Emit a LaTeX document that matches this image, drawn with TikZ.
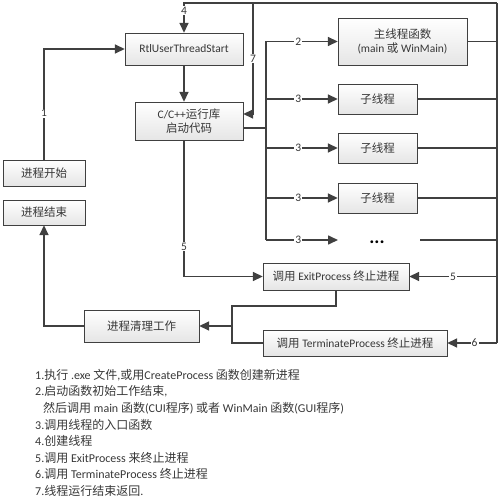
\documentclass[tikz,border=0pt]{standalone}
\usepackage{fontspec}
\setmainfont{Carlito}
\newfontfamily\cjk{Noto Sans CJK SC}
\usetikzlibrary{arrows.meta,shadows}
\newcommand\zh[1]{{\cjk #1}}
\definecolor{lnc}{RGB}{64,64,64}
\definecolor{txc}{RGB}{55,55,55}

\begin{document}
\begin{tikzpicture}[
                    x=1pt, y=-1pt,
                    >={Triangle[length=10pt,width=9pt]},
                    block/.style={draw=lnc, rectangle, inner sep=0pt, top color=white, bottom color=black!10,
                                  drop shadow={shadow xshift=1.2pt, shadow yshift=-1.2pt, opacity=0.25},
                                  text=txc, font=\fontsize{11.5}{14.5}\selectfont, align=center},
                    num/.style={fill=white, inner sep=1pt, text=txc, font=\fontsize{11.5}{13}\selectfont},
                    conn/.style={draw=lnc, line width=1.6pt}
                    ]
    \useasboundingbox (0,0) rectangle (500,500);

    % boxes
    \node [block, minimum width=118pt, minimum height=32pt] (rtl) at (184,49) {RtlUserThreadStart};
    \node [block, minimum width=108pt, minimum height=38pt] (crt) at (189,121) {C/C++\zh{运行库}\\\zh{启动代码}};
    \node [block, minimum width=82pt, minimum height=26pt] (pstart) at (44,173) {\zh{进程开始}};
    \node [block, minimum width=82pt, minimum height=25pt] (pend) at (44,212.5) {\zh{进程结束}};
    \node [block, minimum width=115pt, minimum height=32pt] (clean) at (141.5,326) {\zh{进程清理工作}};
    \node [block, minimum width=129pt, minimum height=47pt] (mainf) at (402.5,41.5) {\zh{主线程函数}\\(main \zh{或} WinMain)};
    \foreach \y/\n in {99/sub1,148/sub2,198/sub3}
        \node [block, minimum width=79pt, minimum height=30pt] (\n) at (377.5,\y) {\zh{子线程}};
    \node [anchor=base, text=black, font=\bfseries\fontsize{19}{20}\selectfont] (dots) at (377,243.5) {...};
    \node [block, minimum width=146pt, minimum height=27pt] (exitp) at (336,276.5) {\zh{调用} ExitProcess \zh{终止进程}};
    \node [block, minimum width=184pt, minimum height=26pt] (termp) at (355,343) {\zh{调用} TerminateProcess \zh{终止进程}};

    % corners of the connectors
    \coordinate (topr) at (497,3);
    \coordinate (botr) at (497,343);
    \coordinate (c7) at (253,3);
    \coordinate (bus) at (266,128);
    \coordinate (busend) at (266,240);
    \coordinate (dotsin) at (338,240);
    \coordinate (dotsout) at (420,240);
    \coordinate (mtop) at (232,306);
    \coordinate (mj) at (232,326);

    \draw [conn,->] (pstart.north) |- node[num,pos=0.21]{1} (rtl.west);
    \draw [conn,->] (rtl.south) -- (rtl.south |- crt.north);
    \draw [conn] (topr) -- (botr);
    \draw [conn,->] (topr) -| node[num,pos=0.63]{4} (rtl.north);
    \draw [conn,->] (c7) |- node[num,pos=0.25]{7} ([yshift=7pt]crt.east);
    \draw [conn,line width=2.8pt] ([yshift=-7pt]crt.east) -- (bus);
    \draw [conn] (bus |- mainf.west) -- (busend);
    \draw [conn,->] (bus |- mainf.west) -- node[num,pos=0.45]{2} (mainf.west);
    \foreach \n in {sub1,sub2,sub3}
        \draw [conn,->] (bus |- \n.west) -- node[num,pos=0.45]{3} (\n.west);
    \draw [conn,->] (busend) -- node[num,pos=0.45]{3} (dotsin);
    \foreach \n in {mainf,sub1,sub2,sub3}
        \draw [conn] (\n.east) -- (\n.east -| topr);
    \draw [conn] (dotsout) -- (dotsout -| topr);
    \draw [conn,->] (exitp.east -| topr) -- node[num]{5} (exitp.east);
    \draw [conn,->] (termp.east -| topr) -- node[num,pos=0.45]{6} (termp.east);
    \draw [conn,->] (rtl.south |- crt.south) |- node[num,pos=0.39]{5} (exitp.west);
    \draw [conn] (exitp.south) |- (mtop) |- (termp.west);
    \draw [conn,->] (mj) -- (clean.east);
    \draw [conn,->] (clean.west) -| (pend.south);

    % legend
    \foreach \t [count=\i] in {
        {1.\zh{执行} .exe \zh{文件},\zh{或用}CreateProcess \zh{函数创建新进程}},
        {2.\zh{启动函数初始工作结束},},
        {\hspace*{8pt}\zh{然后调用} main \zh{函数}(CUI\zh{程序}) \zh{或者} WinMain \zh{函数}(GUI\zh{程序})},
        {3.\zh{调用线程的入口函数}},
        {4.\zh{创建线程}},
        {5.\zh{调用} ExitProcess \zh{来终止进程}},
        {6.\zh{调用} TerminateProcess \zh{终止进程}},
        {7.\zh{线程运行结束返回}.}}
        \node [anchor=west, inner sep=0pt, text=txc, font=\fontsize{12}{14}\selectfont] (legend\i) at (35,{375+16.5*(\i-1)}) {\t};
\end{tikzpicture}
\end{document}
